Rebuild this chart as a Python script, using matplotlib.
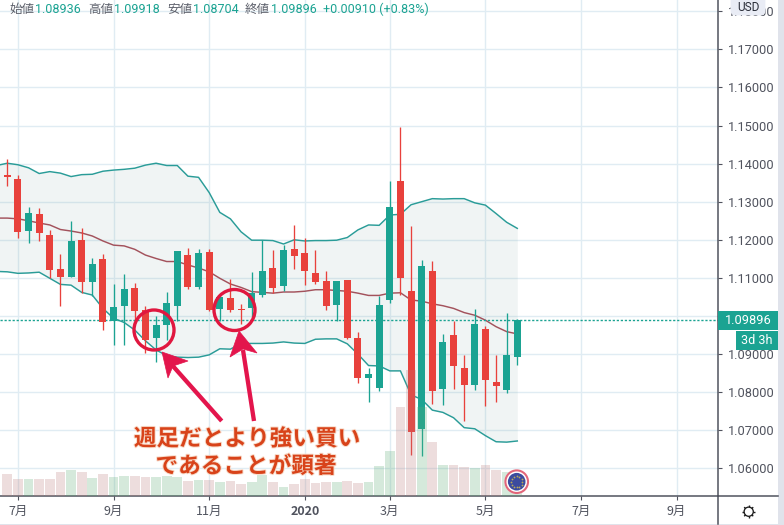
import numpy as np
import matplotlib
matplotlib.use("Agg")
import matplotlib.pyplot as plt
import matplotlib.patheffects as pe
from matplotlib.patches import Circle, Polygon, FancyBboxPatch, Rectangle

# ---------- data ----------
opens = [1.1370,1.1360,1.1224,1.1268,1.1213,1.1123,1.1103,1.1199,1.1090,1.1150,
         1.0988,1.1025,1.1074,1.1016,1.0941,1.0977,1.1027,1.1160,1.1077,1.1168,
         1.1018,1.1047,1.1016,1.1022,1.1055,1.1126,1.1080,1.1176,1.1165,1.1113,
         1.1092,1.1030,1.1095,1.0942,1.0838,1.0812,1.1042,1.1354,1.1066,1.0704,
         1.1118,1.0809,1.0950,1.0864,1.0820,1.0966,1.0827,1.0807,1.08936]
closes = [1.1366,1.1221,1.1270,1.1219,1.1122,1.1103,1.1197,1.1088,1.1137,1.0985,
          1.1024,1.1071,1.1014,1.0938,1.0976,1.1034,1.1171,1.1077,1.1165,1.1016,
          1.1049,1.1016,1.1015,1.1060,1.1118,1.1074,1.1173,1.1158,1.1119,1.1090,
          1.1027,1.1092,1.0942,1.0836,1.0848,1.1029,1.1286,1.1101,1.0696,1.1131,
          1.0804,1.0932,1.0870,1.0820,1.0979,1.0833,1.0815,1.0898,1.09896]
highs = [1.1412,1.1370,1.1286,1.1283,1.1226,1.1163,1.1249,1.1231,1.1152,1.1163,
         1.1084,1.1110,1.1087,1.1026,1.1000,1.1063,1.1171,1.1179,1.1176,1.1176,
         1.1049,1.1097,1.1032,1.1116,1.1199,1.1173,1.1186,1.1239,1.1205,1.1173,
         1.1118,1.1092,1.1095,1.0958,1.0864,1.1053,1.1354,1.1496,1.1236,1.1147,
         1.1144,1.0953,1.0987,1.0898,1.1018,1.0974,1.0898,1.1008,1.09918]
lows = [1.1342,1.1206,1.1192,1.1198,1.1101,1.1025,1.1103,1.1061,1.1053,1.0962,
        1.0925,1.0925,1.0990,1.0904,1.0878,1.0938,1.0988,1.1072,1.1072,1.1013,
        1.0988,1.1011,1.0979,1.0998,1.1051,1.1061,1.1066,1.1123,1.1081,1.1085,
        1.1016,1.0988,1.0940,1.0825,1.0775,1.0804,1.1034,1.1055,1.0635,1.0633,
        1.0770,1.0767,1.0809,1.0725,1.0807,1.0765,1.0773,1.0799,1.08704]
# Bollinger bands start one week before the first candle
band_upper = [1.1395,1.1401,1.1397,1.1389,1.1374,1.1379,1.1375,1.1366,1.1371,1.1372,
              1.1380,1.1383,1.1385,1.1388,1.1396,1.1401,1.1395,1.1395,1.1367,1.1364,
              1.1324,1.1272,1.1255,1.1221,1.1199,1.1199,1.1198,1.1189,1.1200,1.1197,
              1.1198,1.1198,1.1199,1.1206,1.1226,1.1239,1.1238,1.1265,1.1267,1.1292,
              1.1300,1.1308,1.1307,1.1308,1.1308,1.1297,1.1291,1.1269,1.1246,1.1230]
band_mid = [1.1257,1.1257,1.1255,1.1250,1.1244,1.1239,1.1227,1.1223,1.1218,1.1210,
            1.1197,1.1186,1.1184,1.1175,1.1160,1.1151,1.1143,1.1143,1.1134,1.1126,
            1.1116,1.1099,1.1084,1.1075,1.1064,1.1062,1.1060,1.1063,1.1063,1.1065,
            1.1069,1.1069,1.1067,1.1065,1.1060,1.1054,1.1054,1.1060,1.1061,1.1042,
            1.1039,1.1032,1.1027,1.1020,1.1009,1.1002,1.0989,1.0972,1.0959,1.0953]
band_lower = [1.1117,1.1116,1.1112,1.1113,1.1115,1.1099,1.1083,1.1081,1.1062,1.1055,
              1.1020,1.0994,1.0983,1.0963,1.0935,1.0911,1.0896,1.0892,1.0891,1.0892,
              1.0898,1.0914,1.0913,1.0928,1.0928,1.0928,1.0929,1.0932,1.0929,1.0928,
              1.0939,1.0940,1.0940,1.0927,1.0900,1.0870,1.0869,1.0856,1.0856,1.0793,
              1.0781,1.0753,1.0747,1.0733,1.0707,1.0704,1.0686,1.0670,1.0669,1.0672]
volumes = [22,17,17,17,17,24,26,24,18,22,19,20,20,19,19,20,19,15,16,16,14,15,12,14,21,
           14,9,12,17,13,14,14,15,13,14,30,45,89,126,89,54,31,31,29,28,31,26,24,24]
month_ticks = [1,10,19,28,36,45,54,63]
month_labels = ["7月","9月","11月","2020","3月","5月","7月","9月"]
price_ticks = [1.06,1.07,1.08,1.09,1.10,1.11,1.12,1.13,1.14,1.15,1.16,1.17,1.18]
price_labels = ["1.06000","1.07000","1.08000","1.09000","","1.11000","1.12000","1.13000",
                "1.14000","1.15000","1.16000","1.17000","1.18000"]
last_price = 1.09896

UP = "#1ba392"; DOWN = "#e8413c"; GRID = "#e0ecf3"; AXC = "#50535e"
CJK = ["Noto Sans CJK JP", "DejaVu Sans"]
W, H = 784, 525

fig = plt.figure(figsize=(W/100, H/100), dpi=100, facecolor="white")
ax = fig.add_axes([0, 29/H, 718/W, 496/H])
x = np.arange(len(opens))
xb = np.arange(-1, len(opens))
o, c, hi, lo = map(np.array, (opens, closes, highs, lows))
up = c >= o

ax.set_xlim(-0.687, 66.89)
ax.set_ylim(1.05276, 1.18294)
ax.set_axisbelow(True)
ax.grid(True, color=GRID, lw=1.0)
ax.set_xticks(month_ticks, month_labels, family=CJK, fontsize=9, color=AXC)
ax.get_xticklabels()[3].set_fontweight("bold")
ax.yaxis.tick_right()
ax.set_yticks(price_ticks, price_labels, family="Roboto", fontsize=9.2, color=AXC)
ax.tick_params(axis="x", length=3, width=0.8, color=AXC, pad=3.5)
ax.tick_params(axis="y", length=3, width=0.8, color=AXC, pad=4.5)
for s in ("top", "left"):
    ax.spines[s].set_visible(False)
for s in ("right", "bottom"):
    ax.spines[s].set_color(AXC); ax.spines[s].set_linewidth(1.1)

ax.fill_between(xb, band_lower, band_upper, color="#78a0a0", alpha=0.11, lw=0, zorder=1.5)
ax.plot(xb, band_upper, color="#2a9c98", lw=1.05, zorder=2)
ax.plot(xb, band_lower, color="#2a9c98", lw=1.05, zorder=2)
ax.plot(xb, band_mid, color="#a3525c", lw=1.05, zorder=2)
ax.axhline(last_price, color=UP, lw=1, ls=(0, (1.6, 1.3)), zorder=2.2)

colors = [UP if u else DOWN for u in up]
ax.vlines(x, lo, hi, colors=colors, lw=0.95, zorder=3)
ax.bar(x, np.maximum(np.abs(c - o), 0.00035), bottom=np.minimum(o, c), width=0.66,
       color=colors, lw=0, zorder=3.1)

# volume pane on top of the candles
axv = fig.add_axes(ax.get_position(), facecolor="none", sharex=ax)
axv.set_ylim(0, 496)
axv.axis("off")
axv.bar(x, volumes, width=0.92, color=["#5bab73" if u else "#bb7b7b" for u in up], alpha=0.25, lw=0)

# overlay in pixel coordinates for the chart furniture and annotations
ov = fig.add_axes([0, 0, 1, 1], facecolor="none")
ov.set_xlim(0, W); ov.set_ylim(H, 0); ov.axis("off")
ov.add_patch(Rectangle((778, 0), 6, H, color="#e0e3eb", lw=0))
ov.add_patch(Rectangle((0, 523.5), W, 1.5, color="#e0e3eb", lw=0))
ov.plot([718, 778], [496, 496], color=AXC, lw=1.1)
ov.plot([718, 718], [496, 523.5], color=AXC, lw=1.1)

# last price labels
ov.add_patch(Rectangle((718, 311), 60, 19, color=UP, lw=0))
ov.text(748, 320.5, "1.09896", color="white", family="Roboto", fontsize=9.2, ha="center", va="center")
ov.add_patch(Rectangle((736, 331), 42, 19, color=UP, lw=0))
ov.text(757, 340.5, "3d 3h", color="white", family="Roboto", fontsize=9, ha="center", va="center")

# currency button
ov.add_patch(FancyBboxPatch((732, -4), 32, 18, boxstyle="round,pad=0,rounding_size=3",
                            mutation_aspect=1, fc="#e9ecf5", ec="#e9ecf5", lw=2))
ov.text(748, 7.5, "USD", color="#2a2e39", family="Roboto", fontsize=8.6, ha="center", va="center")

# gear
gx, gy = 748.7, 511.7
ov.add_patch(Circle((gx, gy), 4.6, fc="white", ec="#1c1c1c", lw=0.95))
for a in np.arange(8) * np.pi / 4:
    ov.plot([gx + 4.4*np.cos(a), gx + 6.4*np.cos(a)], [gy + 4.4*np.sin(a), gy + 6.4*np.sin(a)],
            color="#1c1c1c", lw=1.0, solid_capstyle="butt")

# legend line
GREY = "#5d606b"
for px, s, col in [(9, "始値", GREY), (35, "1.08936", UP), (88, "高値", GREY), (114, "1.09918", UP),
                   (167, "安値", GREY), (193, "1.08704", UP), (245, "終値", GREY), (271, "1.09896", UP),
                   (323, "+0.00910 (+0.83%)", UP)]:
    ov.text(px, 9.5, s, color=col, family=CJK if col == GREY else "Roboto", fontsize=9.0, ha="left", va="center")

# EU logo
lx, ly = 516.7, 481.7
ov.add_patch(Circle((lx, ly), 12.3, fc="white", ec="none", alpha=0.9))
ov.add_patch(Circle((lx, ly), 11.3, fc="white", ec="#e2667a", lw=1.5))
ov.add_patch(Circle((lx, ly), 8.8, fc="#3c4b9e", ec="none"))
for a in np.arange(12) * np.pi / 6:
    ov.plot(lx + 5.6*np.cos(a), ly + 5.6*np.sin(a), "o", ms=1.3, color="#b9a95a", mew=0)

# annotations
CR = "#e3154c"
ov.add_patch(Circle((154, 330), 20, fc="none", ec="#e0173f", lw=2.4))
ov.add_patch(Circle((234.5, 310), 20.5, fc="none", ec="#e0173f", lw=2.4))
ov.plot([221.7, 172], [421, 365], color=CR, lw=3.1, solid_capstyle="butt")
ov.add_patch(Polygon([(162, 352), (188, 361), (173, 366), (168, 378)], fc=CR, ec=CR, lw=0.5))
ov.plot([254, 243], [421, 350], color=CR, lw=3.1, solid_capstyle="butt")
ov.add_patch(Polygon([(239, 331), (257, 353), (243, 349), (230, 357)], fc=CR, ec=CR, lw=0.5))
halo = [pe.withStroke(linewidth=1.4, foreground="#f8dccb")]
ov.text(247, 439, "週足だとより強い買い", color="#d8431a", family=CJK, fontweight="bold", fontsize=16.3,
        ha="center", va="center", path_effects=halo)
ov.text(246, 466.5, "であることが顕著", color="#d8431a", family=CJK, fontweight="bold", fontsize=16.3,
        ha="center", va="center", path_effects=halo)

fig.savefig("out.png", dpi=100)
